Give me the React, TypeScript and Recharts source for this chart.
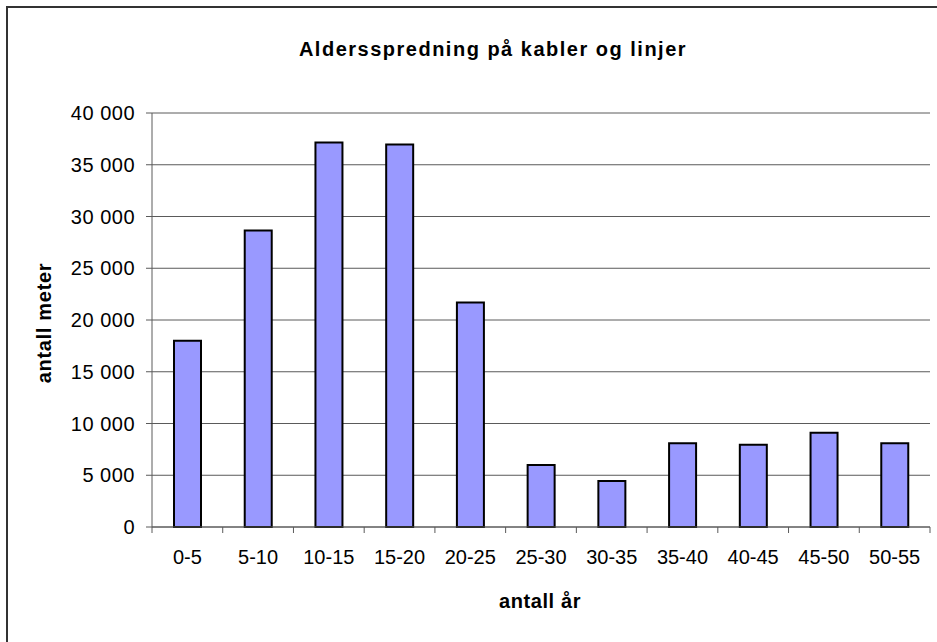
import React from 'react';
import { BarChart, Bar, XAxis, YAxis, CartesianGrid } from 'recharts';

// age ranges (years) and cable/line length in metres
const ranges = ['0-5', '5-10', '10-15', '15-20', '20-25', '25-30', '30-35', '35-40', '40-45', '45-50', '50-55'];
const meters = [18000, 28650, 37150, 36950, 21700, 6000, 4450, 8100, 7950, 9100, 8100];
const yTicks = [0, 5000, 10000, 15000, 20000, 25000, 30000, 35000, 40000];

const data = ranges.map((r, i) => ({ range: r, meter: meters[i] }));

const FONT = '"Liberation Sans", Arial, sans-serif';
const AXIS = '#5a5a5a';

const fmt = (v: number) => (v === 0 ? '0' : `${Math.floor(v / 1000)} ${String(v % 1000).padStart(3, '0')}`);

// Excel style: label in the middle of the band, tick marks on the band edges
const XTick = (props: any) => {
    const { x, y, payload, index, width, visibleTicksCount } = props;
    const half = payload.offset || width / visibleTicksCount / 2;
    const last = index === visibleTicksCount - 1;
    return (
        <g>
            <line x1={x - half} x2={x - half} y1={y} y2={y + 6} stroke={AXIS} />
            {last && <line x1={x + half} x2={x + half} y1={y} y2={y + 6} stroke={AXIS} />}
            <text x={x} y={y + 23} dy="0.71em" textAnchor="middle" fill="#000" fontSize={20} fontFamily={FONT}>
                {payload.value}
            </text>
        </g>
    );
};

export default function App() {
    return (
        <div style={{ position: 'absolute', left: 0, top: 0, width: 937, height: 642, overflow: 'hidden', background: '#fff', fontFamily: FONT }}>
            {/* outer chart frame, right and bottom edge fall outside the picture */}
            <div style={{ position: 'absolute', left: 6, top: 6, width: 1000, height: 1000, border: '2px solid #333' }} />

            <BarChart
                width={937}
                height={642}
                data={data}
                margin={{ top: 113, right: 7, left: 0, bottom: 0 }}
                style={{ position: 'absolute', left: 0, top: 0 }}
            >
                <CartesianGrid vertical={false} stroke={AXIS} strokeWidth={1} />
                <XAxis
                    dataKey="range"
                    interval={0}
                    height={115}
                    axisLine={{ stroke: AXIS }}
                    tickLine={false}
                    tickSize={0}
                    tickMargin={0}
                    tick={<XTick />}
                />
                <YAxis
                    width={152}
                    domain={[0, 40000]}
                    ticks={yTicks}
                    interval={0}
                    tickFormatter={fmt}
                    axisLine={{ stroke: AXIS }}
                    tickLine={{ stroke: AXIS }}
                    tickSize={6}
                    tickMargin={11}
                    tick={{ fill: '#000', fontSize: 20, fontFamily: FONT, letterSpacing: 0.5 }}
                />
                <Bar dataKey="meter" fill="#9999FF" stroke="#000" strokeWidth={2} barSize={27} isAnimationActive={false} />
            </BarChart>

            <div style={{ position: 'absolute', left: 493, top: 39, transform: 'translateX(-50%)', whiteSpace: 'nowrap', fontSize: 20, lineHeight: '20px', fontWeight: 'bold', letterSpacing: 1.5 }}>
                Aldersspredning på kabler og linjer
            </div>
            <div style={{ position: 'absolute', left: 44, top: 323, transform: 'translate(-50%, -50%) rotate(-90deg)', whiteSpace: 'nowrap', fontSize: 20, lineHeight: '20px', fontWeight: 'bold', letterSpacing: 0.7 }}>
                antall meter
            </div>
            <div style={{ position: 'absolute', left: 540, top: 591, transform: 'translateX(-50%)', whiteSpace: 'nowrap', fontSize: 20, lineHeight: '20px', fontWeight: 'bold', letterSpacing: 0.6 }}>
                antall år
            </div>
        </div>
    );
}
